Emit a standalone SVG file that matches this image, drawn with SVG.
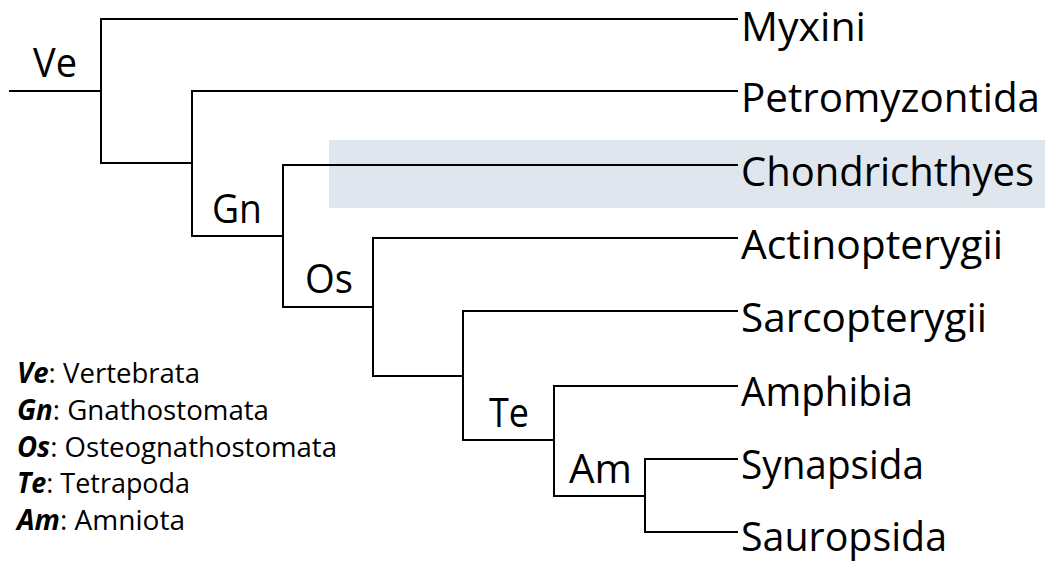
<svg xmlns="http://www.w3.org/2000/svg" width="1047" height="561" viewBox="0 0 1047 561">
  <style>
    .edge { fill: none; stroke: #000; stroke-width: 2; stroke-linecap: square; }
    .taxon { font-family: "Open Sans", "Liberation Sans", sans-serif; font-size: 40px; fill: #000; }
    .clade { font-family: "Open Sans", "Liberation Sans", sans-serif; font-size: 40px; fill: #000; }
    .key { font-family: "Open Sans", "Liberation Sans", sans-serif; font-size: 28px; fill: #000; }
    .key .abbr { font-weight: bold; font-style: italic; }
  </style>
  <rect width="1047" height="561" fill="#fff"/>

  <!-- highlighted clade band -->
  <rect id="highlight" x="329" y="140" width="716" height="68" fill="#dfe6ee"/>

  <!-- tree branches -->
  <g id="connectors" class="edge">
    <path d="M10 91 H101"/>
    <path d="M101 19 V163"/>
    <path d="M101 19 H737"/>
    <path d="M101 163 H192"/>
    <path d="M192 91 V236"/>
    <path d="M192 91 H737"/>
    <path d="M192 236 H283"/>
    <path d="M283 165 V307"/>
    <path d="M283 165 H737"/>
    <path d="M283 307 H373"/>
    <path d="M373 238 V376"/>
    <path d="M373 238 H737"/>
    <path d="M373 376 H463"/>
    <path d="M463 311 V440"/>
    <path d="M463 311 H737"/>
    <path d="M463 440 H554"/>
    <path d="M554 386 V496"/>
    <path d="M554 386 H737"/>
    <path d="M554 496 H645"/>
    <path d="M645 459 V532"/>
    <path d="M645 459 H737"/>
    <path d="M645 532 H737"/>
  </g>

  <!-- terminal taxa -->
  <g id="myxini"><text class="taxon" x="741" y="41" textLength="125" lengthAdjust="spacingAndGlyphs">Myxini</text></g>
  <g id="petromyzontida"><text class="taxon" x="741" y="112" textLength="299" lengthAdjust="spacingAndGlyphs">Petromyzontida</text></g>
  <g id="chondrichthyes"><text class="taxon" x="741" y="186" textLength="293" lengthAdjust="spacingAndGlyphs">Chondrichthyes</text></g>
  <g id="actinopterygii"><text class="taxon" x="741" y="259" textLength="262" lengthAdjust="spacingAndGlyphs">Actinopterygii</text></g>
  <g id="sarcopterygii"><text class="taxon" x="741" y="332" textLength="246" lengthAdjust="spacingAndGlyphs">Sarcopterygii</text></g>
  <g id="amphibia"><text class="taxon" x="741" y="406" textLength="172" lengthAdjust="spacingAndGlyphs">Amphibia</text></g>
  <g id="synapsida"><text class="taxon" x="741" y="479" textLength="183" lengthAdjust="spacingAndGlyphs">Synapsida</text></g>
  <g id="sauropsida"><text class="taxon" x="741" y="551" textLength="206" lengthAdjust="spacingAndGlyphs">Sauropsida</text></g>

  <!-- internal clades -->
  <g id="ve"><text class="clade" x="33" y="77" textLength="44" lengthAdjust="spacingAndGlyphs">Ve</text></g>
  <g id="gn"><text class="clade" x="212" y="223" textLength="50" lengthAdjust="spacingAndGlyphs">Gn</text></g>
  <g id="os"><text class="clade" x="305" y="293" textLength="48" lengthAdjust="spacingAndGlyphs">Os</text></g>
  <g id="te"><text class="clade" x="489" y="427" textLength="40" lengthAdjust="spacingAndGlyphs">Te</text></g>
  <g id="am"><text class="clade" x="569" y="483" textLength="63" lengthAdjust="spacingAndGlyphs">Am</text></g>

  <!-- abbreviation key -->
  <g id="legend" class="key">
    <text x="17" y="383" textLength="183" lengthAdjust="spacingAndGlyphs"><tspan class="abbr">Ve</tspan>: Vertebrata</text>
    <text x="17" y="420" textLength="252" lengthAdjust="spacingAndGlyphs"><tspan class="abbr">Gn</tspan>: Gnathostomata</text>
    <text x="17" y="457" textLength="320" lengthAdjust="spacingAndGlyphs"><tspan class="abbr">Os</tspan>: Osteognathostomata</text>
    <text x="17" y="493" textLength="173" lengthAdjust="spacingAndGlyphs"><tspan class="abbr">Te</tspan>: Tetrapoda</text>
    <text x="17" y="530" textLength="168" lengthAdjust="spacingAndGlyphs"><tspan class="abbr">Am</tspan>: Amniota</text>
  </g>
</svg>
